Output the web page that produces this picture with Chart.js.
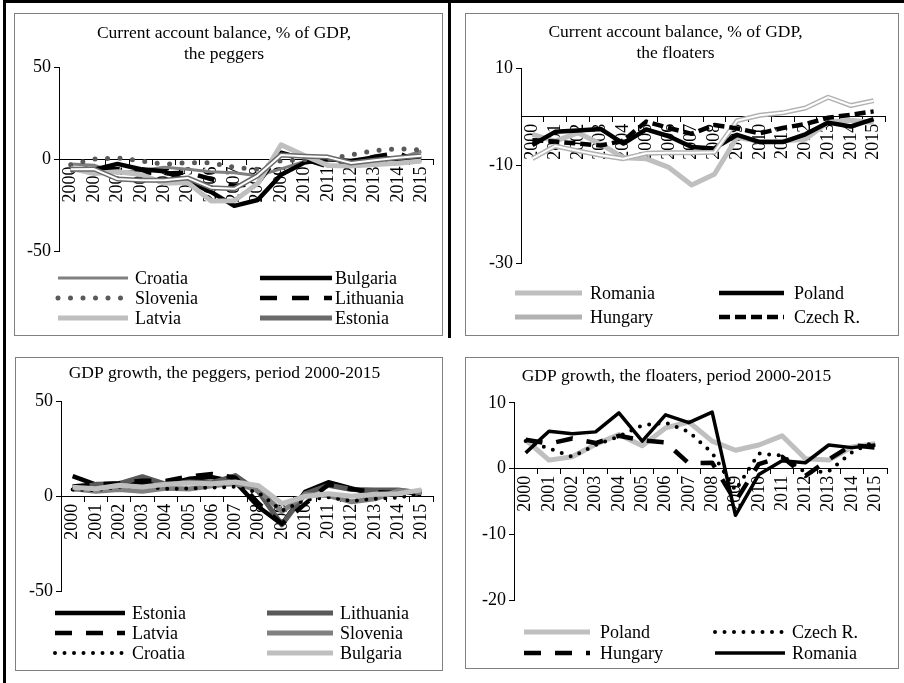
<!DOCTYPE html>
<html>
<head>
<meta charset="utf-8">
<script src="https://cdn.jsdelivr.net/npm/chart.js@4/dist/chart.umd.min.js"></script>
<style>
  html, body { margin: 0; padding: 0; background: #fff; }
  body { width: 904px; height: 683px; position: relative; overflow: hidden; }
  .rule { position: absolute; background: #000; }
  .panel { position: absolute; border: 1px solid #808080; box-sizing: border-box; background: #fff; }
  .panel canvas { position: absolute; left: 0; top: 0; }
</style>
</head>
<body>
<div class="rule" style="left:3px;top:0;width:901px;height:3px"></div>
<div class="rule" style="left:3px;top:0;width:3px;height:683px"></div>
<div class="rule" style="left:448px;top:0;width:3px;height:338px"></div>

<div class="panel" style="left:14px;top:13px;width:429px;height:323px"><canvas id="caPeg" width="427" height="321"></canvas></div>
<div class="panel" style="left:465px;top:13px;width:434px;height:323px"><canvas id="caFloat" width="432" height="321"></canvas></div>
<div class="panel" style="left:15px;top:357px;width:428px;height:314px"><canvas id="gdpPeg" width="426" height="312"></canvas></div>
<div class="panel" style="left:465px;top:357px;width:434px;height:312px"><canvas id="gdpFloat" width="432" height="310"></canvas></div>

<script>
// Years on the category axis
const years = ['2000','2001','2002','2003','2004','2005','2006','2007',
               '2008','2009','2010','2011','2012','2013','2014','2015'];

// Current account balance, % of GDP — pegged regimes
const caCroatia   = [-2.5, -3.1, -7.4, -6.0, -4.2, -5.3, -6.7, -7.2, -8.8, -5.1, -1.1, -0.7, -0.1, 0.9, 0.6, 4.5];
const caBulgaria  = [-5.6, -5.5, -2.4, -5.3, -6.4, -11.6, -17.6, -25.2, -22.0, -8.3, -1.7, 0.3, -0.9, 1.3, 0.1, 0.0];
const caSlovenia  = [-2.8, 0.2, 0.9, -0.8, -2.6, -1.7, -1.8, -4.2, -5.4, -0.6, -0.1, 0.2, 2.6, 4.8, 5.8, 5.2];
const caLithuania = [-5.9, -4.7, -5.1, -6.8, -7.6, -7.1, -10.6, -14.4, -12.9, 3.7, 0.1, -3.7, -1.2, 1.5, 3.6, -2.3];
const caLatvia    = [-4.8, -7.6, -6.6, -8.1, -12.9, -12.5, -22.5, -22.4, -13.1, 8.0, 2.1, -3.2, -3.6, -2.7, -2.0, -0.8];
const caEstonia   = [-5.3, -5.2, -10.6, -11.3, -11.3, -10.0, -15.3, -15.9, -8.7, 2.5, 1.8, 1.3, -1.9, -0.4, 0.9, 2.1];

// Current account balance, % of GDP — floating regimes
const caRomania = [-3.6, -5.0, -3.3, -5.6, -8.4, -8.6, -10.4, -14.0, -11.8, -4.2, -5.1, -5.0, -4.6, -1.1, -0.7, -1.2];
const caPoland  = [-5.8, -3.1, -2.8, -2.5, -5.5, -2.6, -4.0, -6.2, -6.5, -3.7, -5.2, -5.2, -3.6, -1.2, -2.0, -0.5];
const caHungary = [-8.6, -6.0, -7.0, -7.9, -8.6, -7.5, -7.4, -7.4, -7.3, -0.8, 0.3, 0.8, 1.8, 4.0, 2.3, 3.3];
const caCzech   = [-4.8, -5.1, -5.5, -5.9, -4.9, -1.0, -2.3, -3.5, -1.7, -2.4, -3.4, -2.3, -1.5, -0.2, 0.4, 1.1];

// GDP growth, % — pegged regimes
const gdpEstonia   = [10.8, 6.3, 6.1, 7.4, 6.3, 9.4, 10.3, 7.7, -5.4, -14.5, 2.5, 7.6, 4.3, 1.4, 2.8, 1.4];
const gdpLithuania = [3.8, 6.5, 6.8, 10.5, 6.6, 7.7, 7.4, 11.1, 2.6, -14.8, 1.6, 6.0, 3.8, 3.5, 3.5, 2.0];
const gdpLatvia    = [5.4, 6.5, 7.1, 8.4, 8.3, 10.7, 11.9, 10.0, -3.6, -14.3, -3.8, 6.4, 4.0, 2.4, 1.9, 3.0];
const gdpSlovenia  = [4.2, 2.9, 3.8, 2.8, 4.4, 4.0, 5.7, 6.9, 3.3, -7.8, 1.2, 0.6, -2.7, -1.1, 3.1, 2.3];
const gdpCroatia   = [3.8, 3.4, 5.2, 5.6, 4.1, 4.3, 4.8, 5.2, 2.1, -7.4, -1.7, -0.3, -2.2, -1.1, -0.5, 1.6];
const gdpBulgaria  = [5.0, 4.2, 6.0, 5.1, 6.6, 7.2, 6.8, 7.7, 5.8, -3.6, 0.1, 1.6, 0.2, 1.3, 1.5, 3.6];

// GDP growth, % — floating regimes
const gdpPoland  = [4.4, 1.3, 1.8, 3.7, 5.2, 3.5, 6.2, 7.1, 4.2, 2.8, 3.6, 5.0, 1.5, 1.3, 3.3, 3.8];
const gdpCzech   = [4.2, 3.1, 1.8, 3.6, 4.9, 6.6, 7.0, 5.6, 2.4, -3.3, 2.3, 2.0, -0.6, -0.4, 2.5, 4.2];
const gdpHungary = [4.4, 3.8, 4.6, 3.9, 5.0, 4.3, 4.0, 0.8, 0.9, -5.0, 0.7, 1.8, -1.1, 1.4, 3.6, 3.2];
const gdpRomania = [2.4, 5.7, 5.3, 5.6, 8.5, 4.2, 8.2, 7.0, 8.6, -7.1, -0.9, 1.2, 0.9, 3.6, 3.2, 3.6];

// Value-axis tick labels
const caPegTicks    = [-50, 0, 50];
const caFloatTicks  = [-30, -10, 10];
const gdpPegTicks   = [-50, 0, 50];
const gdpFloatTicks = [-20, -10, 0, 10];

const SERIF = '"Liberation Serif", "Times New Roman", serif';
Chart.defaults.font.family = SERIF;
Chart.defaults.color = '#000';

// Two-column legend drawn beneath the plot, one row per pair of series
const gridLegend = {
  id: 'gridLegend',
  afterDraw(chart, args, opts) {
    const ctx = chart.ctx;
    const items = chart.data.datasets.filter(d => !d.core);
    ctx.save();
    ctx.font = opts.font;
    ctx.textBaseline = 'middle';
    ctx.textAlign = 'left';
    items.forEach((ds, k) => {
      const col = opts.cols[k % 2];
      const y = opts.rows[Math.floor(k / 2)];
      ctx.save();
      ctx.strokeStyle = ds.borderColor;
      ctx.lineWidth = ds.borderWidth;
      ctx.lineCap = ds.borderCapStyle || 'butt';
      ctx.setLineDash(ds.borderDash || []);
      ctx.beginPath();
      ctx.moveTo(col[0], y);
      ctx.lineTo(col[1], y);
      ctx.stroke();
      ctx.restore();
      ctx.fillStyle = '#000';
      ctx.fillText(ds.label, col[2], y + 1);
    });
    ctx.restore();
  }
};

function buildChart(id, o) {
  const datasets = [];
  o.series.forEach((s, i) => {
    datasets.push({
      label: s.label, data: s.data,
      borderColor: s.color, borderWidth: s.width,
      borderDash: s.dash || [], borderCapStyle: s.cap || 'butt',
      borderJoinStyle: 'round',
      pointRadius: 0, pointHoverRadius: 0, tension: 0, fill: false,
      order: -2 * i
    });
    if (s.core) {
      // white centre stroke gives the compound (double) line
      datasets.push({
        label: s.label, core: true, data: s.data,
        borderColor: '#fff', borderWidth: s.core, borderJoinStyle: 'round',
        pointRadius: 0, pointHoverRadius: 0, tension: 0, fill: false,
        order: -2 * i - 1
      });
    }
  });
  const t = o.ticks;
  return new Chart(document.getElementById(id), {
    type: 'line',
    data: { labels: years, datasets },
    plugins: [gridLegend],
    options: {
      responsive: false,
      animation: false,
      events: [],
      layout: { padding: o.padding },
      plugins: {
        legend: { display: false },
        tooltip: { enabled: false },
        title: {
          display: true, text: o.title, color: '#000',
          font: { size: 17.5, weight: 'normal', lineHeight: 1.25 },
          padding: o.titlePad
        },
        gridLegend: { font: '18px ' + SERIF, cols: o.legendCols, rows: o.legendRows }
      },
      scales: {
        x: {
          type: 'category',
          position: { y: 0 },
          offset: true,
          grid: { display: true, drawOnChartArea: false, drawTicks: true, tickLength: 5,
                  offset: true, color: '#000', lineWidth: 1 },
          border: { display: true, color: '#000', width: 1, dash: o.zeroDash || [] },
          ticks: { minRotation: 90, maxRotation: 90, autoSkip: false, padding: 2,
                   color: '#000', font: { size: 18 } },
          afterFit(s) { s.paddingLeft = 0; s.paddingRight = 0; }
        },
        y: {
          type: 'linear',
          position: 'left',
          min: t[0], max: t[t.length - 1],
          grid: { drawOnChartArea: false, drawTicks: true, tickLength: 5, color: '#000' },
          border: { display: true, color: '#000', width: 1 },
          ticks: { stepSize: t[1] - t[0], padding: 3, color: '#000', font: { size: 18 } },
          afterFit(s) { s.width = o.yWidth; }
        }
      }
    }
  });
}

const BLACK = '#000000', DARK = '#595959', MID = '#808080', LIGHT = '#bfbfbf';

buildChart('caPeg', {
  title: ['Current account balance, % of GDP,', 'the peggers'],
  titlePad: { top: 8, bottom: 1.75 },
  padding: { left: 0, right: 9, top: 0, bottom: 83.5 },
  yWidth: 44,
  ticks: caPegTicks,
  legendCols: [[43, 113, 120], [245, 317, 320]],
  legendRows: [264, 284, 304],
  series: [
    { label: 'Croatia',   data: caCroatia,   color: MID,   width: 3 },
    { label: 'Bulgaria',  data: caBulgaria,  color: BLACK, width: 4.5 },
    { label: 'Slovenia',  data: caSlovenia,  color: DARK,  width: 5, dash: [0, 12.5], cap: 'round' },
    { label: 'Lithuania', data: caLithuania, color: BLACK, width: 4.5, dash: [17, 15] },
    { label: 'Latvia',    data: caLatvia,    color: LIGHT, width: 5 },
    { label: 'Estonia',   data: caEstonia,   color: '#6a6a6a', width: 5, core: 2 }
  ]
});

buildChart('caFloat', {
  title: ['Current account balance, % of GDP,', 'the floaters'],
  titlePad: { top: 7, bottom: 3.25 },
  padding: { left: 0, right: 13, top: 0, bottom: 72 },
  yWidth: 55,
  ticks: caFloatTicks,
  legendCols: [[49, 116, 124], [253, 318, 328]],
  legendRows: [279, 303],
  series: [
    { label: 'Romania',  data: caRomania, color: LIGHT, width: 5 },
    { label: 'Poland',   data: caPoland,  color: BLACK, width: 4.5 },
    { label: 'Hungary',  data: caHungary, color: '#b2b2b2', width: 5, core: 2 },
    { label: 'Czech R.', data: caCzech,   color: BLACK, width: 4.5, dash: [11, 5] }
  ]
});

buildChart('gdpPeg', {
  title: ['GDP growth, the peggers, period 2000-2015'],
  titlePad: { top: 4, bottom: 17.8 },
  padding: { left: 0, right: 9, top: 0, bottom: 78.3 },
  yWidth: 45,
  ticks: gdpPegTicks,
  zeroDash: [4, 3],
  legendCols: [[39, 109, 116], [251, 317, 324]],
  legendRows: [255, 275, 295],
  series: [
    { label: 'Estonia',   data: gdpEstonia,   color: BLACK, width: 4.5 },
    { label: 'Lithuania', data: gdpLithuania, color: DARK,  width: 5 },
    { label: 'Latvia',    data: gdpLatvia,    color: BLACK, width: 4.5, dash: [17, 14] },
    { label: 'Slovenia',  data: gdpSlovenia,  color: MID,   width: 5 },
    { label: 'Croatia',   data: gdpCroatia,   color: BLACK, width: 4, dash: [0, 9.5], cap: 'round' },
    { label: 'Bulgaria',  data: gdpBulgaria,  color: LIGHT, width: 5 }
  ]
});

buildChart('gdpFloat', {
  title: ['GDP growth, the floaters, period 2000-2015'],
  titlePad: { top: 7, bottom: 16.1 },
  padding: { left: 0, right: 11, top: 0, bottom: 68 },
  yWidth: 48,
  ticks: gdpFloatTicks,
  legendCols: [[58, 124, 134], [249, 319, 326]],
  legendRows: [274, 295],
  series: [
    { label: 'Poland',   data: gdpPoland,  color: LIGHT, width: 5 },
    { label: 'Czech R.', data: gdpCzech,   color: BLACK, width: 4, dash: [0, 9.5], cap: 'round' },
    { label: 'Hungary',  data: gdpHungary, color: BLACK, width: 4.5, dash: [17, 14] },
    { label: 'Romania',  data: gdpRomania, color: BLACK, width: 3.5 }
  ]
});
</script>
</body>
</html>
